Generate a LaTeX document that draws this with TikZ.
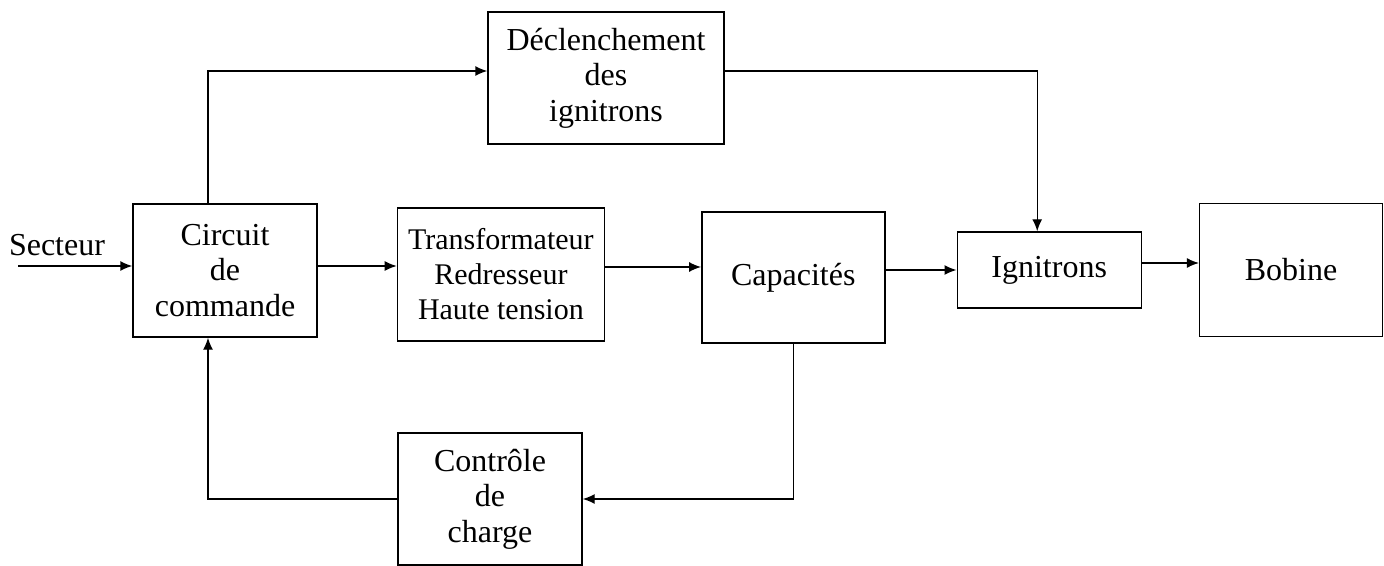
\documentclass[tikz,border=0pt]{standalone}
\usepackage{fontspec}
\setmainfont{Liberation Serif}
\usetikzlibrary{arrows.meta, positioning}

\begin{document}
\begin{tikzpicture}[
        x=0.5pt, y=-0.5pt,
        >={Latex[length=6pt,width=5pt]},
        line width=0.7pt,
        block/.style={draw, rectangle, align=center, inner sep=2pt,
            font=\fontsize{16}{17.75}\selectfont}]

    \useasboundingbox (0,0) rectangle (1384,566);

    \node [block, minimum width=92pt, minimum height=66.5pt]   (cmd) at (225,270.5) {Circuit\\de\\commande};
    \node [block, minimum width=103.5pt, minimum height=66.5pt,
           font=\fontsize{15}{17.5}\selectfont]                (trans) [right=39.5pt of cmd, yshift=-2pt] {Transformateur\\Redresseur\\Haute tension};
    \node [block, minimum width=91.5pt, minimum height=65.5pt] (cap) [right=48pt of trans, yshift=-1.5pt] {Capacités};
    \node [block, minimum width=92pt, minimum height=38pt]     (ign) [right=35.5pt of cap, yshift=3.75pt] {Ignitrons};
    \node [block, minimum width=91.5pt, minimum height=66.5pt] (bob) [right=28.5pt of ign] {Bobine};
    \node [block, minimum width=118pt, minimum height=66pt]    (decl) at (606,78) {Déclenchement\\des\\ignitrons};
    \node [block, minimum width=92pt, minimum height=66pt]     (ctrl) at (490,499) {Contrôle\\de\\charge};

    \node [font=\fontsize{16}{17.75}\selectfont] (secteur) at (57,245) {Secteur};
    \coordinate (sin) at (18,266);

    \draw [->] (sin) -- (sin -| cmd.west);
    \draw [->] ([yshift=2.25pt]cmd.east) -- ([yshift=2.25pt]cmd.east -| trans.west);
    \draw [->] ([yshift=3.75pt]trans.east) -- ([yshift=3.75pt]trans.east -| cap.west);
    \draw [->] (cap.east |- ign.west) -- (ign.west);
    \draw [->] ([yshift=3.5pt]ign.east) -- ([yshift=3.5pt]ign.east -| bob.west);
    \draw [->] ([xshift=-8.5pt]cmd.north) |- ([yshift=3.5pt]decl.west);
    \draw [->] ([yshift=3.5pt]decl.east) -| ([xshift=-6pt]ign.north);
    \draw [->] (cap.south) |- (ctrl.east);
    \draw [->] (ctrl.west) -| ([xshift=-8.5pt]cmd.south);
\end{tikzpicture}
\end{document}
